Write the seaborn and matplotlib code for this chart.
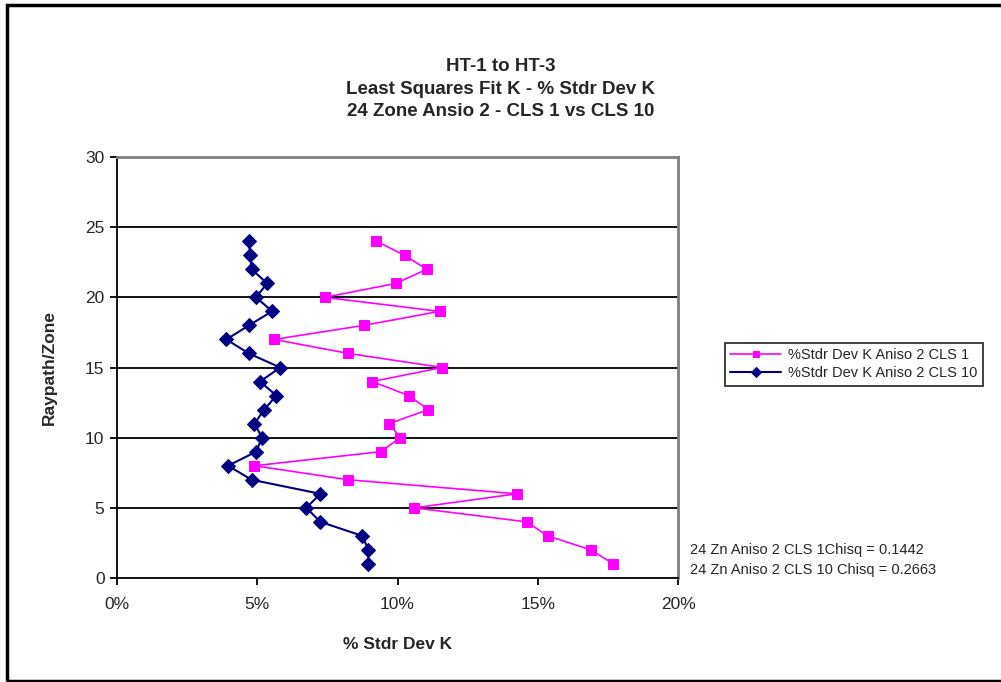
import matplotlib
matplotlib.use("Agg")
import matplotlib.pyplot as plt
import seaborn as sns
import numpy as np
import pandas as pd
from matplotlib.ticker import PercentFormatter, MultipleLocator
from matplotlib.patches import Rectangle

zones = list(range(1, 25))
cls1 = [0.1770, 0.1690, 0.1536, 0.1460, 0.1060, 0.1425, 0.0825, 0.0490,
        0.0940, 0.1010, 0.0970, 0.1110, 0.1040, 0.0910, 0.1160, 0.0825,
        0.0560, 0.0880, 0.1150, 0.0740, 0.0996, 0.1104, 0.1025, 0.0925]
cls10 = [0.0896, 0.0896, 0.0875, 0.0725, 0.0675, 0.0725, 0.0480, 0.0396,
         0.0496, 0.0517, 0.0490, 0.0525, 0.0568, 0.0510, 0.0582, 0.0470,
         0.0390, 0.0470, 0.0553, 0.0496, 0.0535, 0.0480, 0.0475, 0.0470]
label1 = "%Stdr Dev K Aniso 2 CLS 1"
label10 = "%Stdr Dev K Aniso 2 CLS 10"
title_lines = ["HT-1 to HT-3", "Least Squares Fit K - % Stdr Dev K",
               "24 Zone Ansio 2 - CLS 1 vs CLS 10"]
notes = ["24 Zn Aniso 2 CLS 1Chisq = 0.1442",
         "24 Zn Aniso 2 CLS 10 Chisq = 0.2663"]

sns.set_theme(style="white")
plt.rcParams['font.family'] = ['Liberation Sans', 'DejaVu Sans']

W, H = 1001, 682
fig = plt.figure(figsize=(W / 100, H / 100), dpi=100)
ax = fig.add_axes([117 / W, (H - 578) / H, 561 / W, 421 / H])

df1 = pd.DataFrame({"x": cls1, "y": zones})
df10 = pd.DataFrame({"x": cls10, "y": zones})
sns.lineplot(data=df1, x="x", y="y", sort=False, estimator=None, ax=ax,
             color="#FF00FF", lw=1.2, marker="s", markersize=7,
             markeredgecolor="#FF00FF", label=label1)
sns.lineplot(data=df10, x="x", y="y", sort=False, estimator=None, ax=ax,
             color="#000080", lw=1.5, marker="D", markersize=7,
             markeredgecolor="#000080", label=label10)

ax.set_xlim(0, 0.20)
ax.set_ylim(0, 30)
ax.xaxis.set_major_locator(MultipleLocator(0.05))
ax.xaxis.set_major_formatter(PercentFormatter(1.0, decimals=0))
ax.yaxis.set_major_locator(MultipleLocator(5))
for yv in range(5, 30, 5):
    ax.axhline(yv, color="black", lw=1.3, zorder=0)

for s in ["left", "bottom"]:
    ax.spines[s].set_color("black")
    ax.spines[s].set_linewidth(1.3)
for s in ["top", "right"]:
    ax.spines[s].set_color("#808080")
    ax.spines[s].set_linewidth(2)
ax.tick_params(axis="both", which="major", direction="out", length=5,
               width=1.3, color="black", labelsize=12.5, pad=4,
               bottom=True, left=True)
ax.tick_params(axis="x", pad=9)
ax.set_xlabel("% Stdr Dev K", fontsize=12.5, fontweight="bold", labelpad=18)
ax.set_ylabel("Raypath/Zone", fontsize=12.5, fontweight="bold", labelpad=20)

leg = ax.legend(loc="upper left", bbox_to_anchor=(725 / W, (H - 343) / H),
                bbox_transform=fig.transFigure, frameon=True, fontsize=10.5,
                fancybox=False, borderpad=0.35, handlelength=3.5,
                handletextpad=0.5, labelspacing=0.3, borderaxespad=0)
leg.get_frame().set_edgecolor("black")
leg.get_frame().set_linewidth(1.3)
for h in leg.legend_handles:
    h.set_markersize(5)

fig.text(0.5, (H - 89) / H, "\n".join(title_lines), ha="center", va="center",
         fontsize=13.5, fontweight="bold", linespacing=1.42)
fig.text(690 / W, (H - 550) / H, notes[0], ha="left", va="center", fontsize=10.5)
fig.text(690 / W, (H - 570) / H, notes[1], ha="left", va="center", fontsize=10.5)

fig.patches.append(Rectangle((7 / W, 1 / H), 1.2, (H - 6) / H,
                             transform=fig.transFigure, fill=False,
                             edgecolor="black", lw=2.5))

fig.savefig("out.png", dpi=100)
